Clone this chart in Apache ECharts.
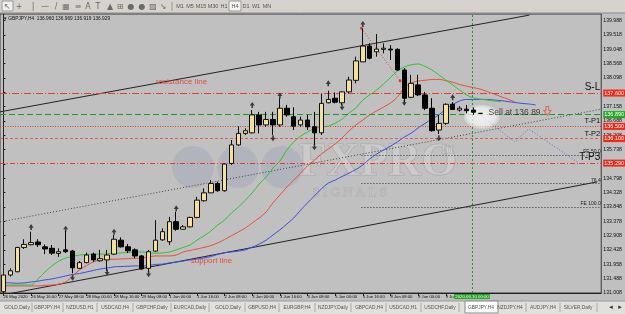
<!DOCTYPE html>
<html><head><meta charset="utf-8">
<script src="https://cdn.jsdelivr.net/npm/echarts/dist/echarts.min.js"></script>
<style>html,body{margin:0;padding:0;background:#c0c0c0;overflow:hidden}#c{width:625px;height:314px;}</style>
</head><body><div id="c"></div>
<script>
// ---- data ----
const opens  = [131.05,131.60,131.71,132.51,132.60,132.69,132.53,132.48,132.31,132.43,132.39,131.82,132.01,132.29,132.07,132.10,132.29,132.75,132.53,132.43,132.23,131.82,132.39,132.76,132.70,133.36,133.11,133.19,133.50,134.05,134.31,134.62,134.38,135.28,135.89,136.27,136.29,136.88,136.55,136.73,136.55,137.10,136.82,136.55,136.71,136.49,136.29,137.28,137.43,137.28,137.64,138.02,138.63,139.15,138.96,139.04,139.05,139.04,138.36,137.46,137.87,137.54,137.10,136.38,136.60,137.23,137.04,137.07,137.04,136.93];
const closes = [131.60,131.74,132.51,132.61,132.67,132.60,132.46,132.32,132.37,132.37,131.84,132.01,132.26,132.10,132.14,132.26,132.78,132.53,132.40,132.23,131.80,132.37,132.75,133.03,133.36,133.11,133.19,133.50,134.07,134.31,134.62,134.38,135.26,135.89,136.27,136.36,136.88,136.55,136.73,136.55,137.10,136.88,136.51,136.71,136.49,136.29,137.26,137.39,137.30,137.64,138.03,138.66,139.15,138.75,139.05,139.08,139.02,138.36,137.43,137.92,137.54,137.10,136.36,136.60,137.23,137.06,137.10,137.02,136.97,136.93];
const lows   = [131.00,131.55,131.69,132.46,132.58,132.53,132.29,132.26,132.20,132.33,131.66,131.80,131.99,132.04,132.04,131.74,132.26,132.51,132.32,132.15,131.78,131.70,132.37,132.73,132.59,133.06,133.09,133.17,133.47,134.02,134.30,134.35,134.35,135.23,135.86,136.22,136.27,136.27,136.49,136.22,136.49,136.82,136.38,136.49,136.38,135.89,136.22,137.26,137.26,137.21,137.59,137.92,138.62,138.71,138.80,138.91,138.69,138.34,137.31,137.43,137.50,137.04,136.33,136.25,136.55,137.04,136.99,136.93,136.88,136.92];
const highs  = [131.63,131.82,132.53,132.78,133.03,132.78,132.61,132.59,132.48,133.05,132.43,132.06,132.34,132.34,132.43,132.43,132.92,132.84,132.62,132.48,132.26,132.43,133.41,133.14,133.52,133.69,133.25,133.52,134.18,134.46,134.73,134.68,135.28,136.05,136.51,136.44,137.04,136.98,136.98,136.98,137.43,137.21,137.13,136.82,136.88,136.98,137.58,137.68,137.62,137.66,138.14,138.80,139.73,139.24,139.55,139.24,139.18,139.08,138.42,138.20,138.20,137.64,137.43,136.88,137.26,137.30,137.17,137.21,137.13,136.94];

const lipsGreen = [131.27,131.27,131.27,131.27,131.27,131.47,131.70,131.90,132.06,132.16,132.21,132.26,132.28,132.29,132.29,132.30,132.32,132.33,132.34,132.36,132.36,132.34,132.32,132.33,132.36,132.43,132.51,132.59,132.75,132.89,133.05,133.25,133.41,133.65,133.84,134.07,134.31,134.60,134.83,135.13,135.36,135.72,135.99,136.18,136.32,136.42,136.48,136.51,136.61,136.74,136.94,137.11,137.37,137.54,137.70,137.90,138.11,138.33,138.46,138.53,138.56,138.48,138.36,138.20,138.03,137.87,137.70,137.54,137.44,137.40,137.37,137.34,137.31];
const teethRed = [131.24,131.24,131.24,131.24,131.24,131.24,131.26,131.27,131.30,131.37,131.57,131.77,131.91,132.03,132.10,132.12,132.12,132.13,132.14,132.15,132.16,132.20,132.23,132.23,132.23,132.26,132.36,132.41,132.46,132.51,132.57,132.66,132.77,132.90,133.02,133.15,133.32,133.48,133.68,133.98,134.24,134.50,134.73,134.96,135.20,135.39,135.59,135.76,135.92,136.12,136.35,136.55,136.71,136.88,137.01,137.14,137.27,137.47,137.77,137.93,138.00,138.02,138.05,138.05,138.01,137.96,137.88,137.83,137.78,137.73,137.65,137.57,137.48,137.40,137.31];
const jawBlue = [131.35,131.34,131.33,131.34,131.37,131.40,131.44,131.47,131.52,131.57,131.62,131.65,131.70,131.75,131.80,131.83,131.87,131.88,131.89,131.90,131.90,131.91,131.95,131.96,132.00,132.03,132.06,132.10,132.13,132.16,132.21,132.28,132.34,132.36,132.39,132.43,132.52,132.62,132.75,132.92,133.09,133.28,133.48,133.74,133.98,134.21,134.44,134.63,134.73,134.85,134.96,135.08,135.23,135.43,135.59,135.72,135.85,135.99,136.15,136.28,136.45,136.60,136.74,136.88,137.07,137.22,137.34,137.39,137.39,137.39,137.39,137.37,137.35,137.32,137.29,137.26,137.24,137.21];

const timeLabels = ['26 May 2020','26 May 16:00','27 May 08:00','28 May 00:00','28 May 16:00','29 May 08:00','1 Jun 00:00','1 Jun 16:00','2 Jun 08:00','3 Jun 00:00','3 Jun 16:00','4 Jun 08:00','5 Jun 00:00','5 Jun 16:00','8 Jun 08:00','9 Jun 00:00','9 Jun 16:00'];
const priceTicks = ['131.008','131.488','131.958','132.428','132.908','133.378','133.848','134.328','134.798','135.268','135.738','136.208','136.688','137.158','137.628','138.098','138.568','139.048','139.518','139.988'];

const fractalUpBars = [4,9,16,25,36,40,47,52,65];
const fractalUpPrices = [133.18,133.13,133.03,133.80,137.21,137.52,137.92,139.88,137.46];
const fractalDownBars = [10,15,21,39,45,49,58,63];
const fractalDownPrices = [131.51,131.68,131.63,136.11,135.81,137.13,137.28,136.11];

const levelNames = ['S-L','T-P1','T-P2','T-P3'];
const levelPrices = [137.60,136.50,136.10,135.29];
const levelBoxes = ['137.600','136.500','136.100','135.290'];
const entryPrice = 136.89;
const entryBox = '136.890';
const feNames = ['FE 50.0','76.4','FE 100.0'];
const fePrices = [135.56,134.63,133.84];
const feStartBar = 51.8;

const upperChannel = [[-0.5,136.98],[76.1,140.17]];
const lowerChannel = [[0.65,130.975],[85.9,134.67]];
const midDotted = [[-0.5,133.35],[86.5,137.07]];
const projection = [[68.06,137.04],[73.96,135.99],[75.98,136.42],[83.47,135.26]];
const zigzag = [[51.8,139.74],[57.4,138.01]];
const crosshairBar = 67.8;
const crosshairLabel = '2020.06.10 00:00';
const totalBars = 87;

// ---- chart ----
const yMin = 131.008, yStep = 0.47263, yMax = 140.207;
const cats = Array.from({length: totalBars}, (_, i) => String(i));
const candles = cats.map((_, i) => i < opens.length ? [opens[i], closes[i], lows[i], highs[i]] : '-');
const FONT = 'Liberation Sans';
const NARROW = '"Liberation Sans Narrow", "Liberation Sans"';
const upArrow = 'path://M5 0 L10 6 L6.6 6 L6.6 10 L3.4 10 L3.4 6 L0 6 Z';
const dnArrow = 'path://M3.4 0 L6.6 0 L6.6 4 L10 4 L5 10 L0 4 L3.4 4 Z';
const hollowDown = 'path://M3 0 L7 0 L7 5 L10 5 L5 11 L0 5 L3 5 Z';

const levelColors = ['#e2402e','#e2402e','#e85a5a','#e2402e'];
const levelTypes = [[7,2,1,2],[1,1.5],[3,2],[5,2,1,2]];
const nameSizes = [10,7.5,7.5,10];

const mlData = [];
levelPrices.forEach((p, k) => {
  mlData.push({yAxis: p, lineStyle: {color: levelColors[k], type: levelTypes[k], width: 1},
    label: {show: true, position: 'end', distance: 2, formatter: levelBoxes[k], backgroundColor: '#f02a1a', color: '#fff', fontSize: 5.5, fontFamily: NARROW, padding: [1,1,0,1]}});
  mlData.push({yAxis: p, lineStyle: {color: 'rgba(0,0,0,0)', width: 0},
    label: {show: true, position: 'insideEndTop', distance: [1,1], formatter: levelNames[k], color: '#111', fontSize: nameSizes[k], fontFamily: FONT}});
});
mlData.push({yAxis: entryPrice, lineStyle: {color: '#1f9a2a', type: [6,3], width: 1},
  label: {show: true, position: 'end', distance: 2, formatter: entryBox, backgroundColor: '#22aa22', color: '#fff', fontSize: 5.5, fontFamily: NARROW, padding: [1,1,0,1]}});

const feData = fePrices.map((p, k) => [
  {coord: [feStartBar, p], lineStyle: {color: '#333', type: [1,2], width: 1},
   label: {show: true, position: 'insideEndTop', distance: [0.5,0.5], formatter: feNames[k], color: '#222', fontSize: 5, fontFamily: NARROW}},
  {coord: [totalBars - 0.5, p]}
]);

const chart = echarts.init(document.getElementById('c'));
chart.setOption({
  animation: false,
  backgroundColor: '#c0c0c0',
  grid: {left: 0, top: 14, width: 604, height: 279, show: true, borderColor: '#3a3a3a', borderWidth: 1, backgroundColor: 'transparent'},
  xAxis: [
    {type: 'category', data: cats, boundaryGap: true,
     axisLine: {lineStyle: {color: '#222'}},
     axisTick: {show: true, length: 3, alignWithLabel: true, interval: i => i % 4 === 0 && i / 4 < timeLabels.length, lineStyle: {color: '#222'}},
     axisLabel: {interval: i => i % 4 === 0 && i / 4 < timeLabels.length, showMinLabel: true, hideOverlap: false,
       formatter: (v, i) => timeLabels[i / 4] || '', align: 'left', fontSize: 4.2, color: '#111', fontFamily: FONT, margin: 2},
     splitLine: {show: false}},
    {type: 'value', min: -0.5, max: totalBars - 0.5, show: false}
  ],
  yAxis: {type: 'value', position: 'right', min: yMin, max: yMax, interval: yStep,
    axisLine: {show: true, lineStyle: {color: '#222'}},
    axisTick: {show: true, length: 2, lineStyle: {color: '#222'}},
    splitLine: {show: false},
    axisLabel: {showMaxLabel: false, fontSize: 5.2, color: '#111', fontFamily: FONT, margin: 2,
      formatter: v => { const k = Math.round((v - yMin) / yStep); return Math.abs(v - (yMin + k * yStep)) < 1e-6 && priceTicks[k] ? priceTicks[k] : ''; }}},
  series: [
    {type: 'line', xAxisIndex: 1, data: upperChannel, symbol: 'none', lineStyle: {color: '#222', width: 1}, z: 3, silent: true},
    {type: 'line', xAxisIndex: 1, data: lowerChannel, symbol: 'none', lineStyle: {color: '#222', width: 1}, z: 3, silent: true},
    {type: 'line', xAxisIndex: 1, data: midDotted, symbol: 'none', lineStyle: {color: '#444', width: 1, type: [1,2]}, z: 3, silent: true},
    {type: 'line', xAxisIndex: 1, data: projection, symbol: 'none', lineStyle: {color: '#5a6ee0', width: 1, type: [1,2]}, z: 3, silent: true},
    {type: 'line', xAxisIndex: 1, data: zigzag, symbol: 'circle', symbolSize: 3, itemStyle: {color: '#e04030'}, lineStyle: {color: '#e04030', width: 1, type: [1,2]}, z: 3, silent: true},
    {type: 'line', xAxisIndex: 0, data: [], markLine: {silent: true, symbol: ['none','none'], animation: false, data: mlData}, z: 3},
    {type: 'line', xAxisIndex: 1, data: [], markLine: {silent: true, symbol: ['none','none'], animation: false, data: feData.concat([
      {xAxis: crosshairBar, lineStyle: {color: '#1e9a1e', type: [2,2], width: 1},
       label: {show: true, position: 'start', distance: 1, formatter: crosshairLabel, backgroundColor: '#22a022', color: '#fff', fontSize: 4.3, fontFamily: FONT, padding: [1,1,0,1]}}])}, z: 3},
    {type: 'line', xAxisIndex: 0, data: jawBlue, symbol: 'none', smooth: 0.3, lineStyle: {color: '#3c4ee0', width: 1}, z: 4, silent: true},
    {type: 'line', xAxisIndex: 0, data: teethRed, symbol: 'none', smooth: 0.3, lineStyle: {color: '#e8503c', width: 1}, z: 4, silent: true},
    {type: 'line', xAxisIndex: 0, data: lipsGreen, symbol: 'none', smooth: 0.3, lineStyle: {color: '#2fc42f', width: 1}, z: 4, silent: true},
    {type: 'scatter', xAxisIndex: 1, data: [[69.2, 136.82]], symbol: 'circle', symbolSize: [36, 24], silent: true, z: 5,
     itemStyle: {color: {type: 'radial', x: 0.5, y: 0.5, r: 0.5, colorStops: [{offset: 0, color: 'rgba(255,255,255,0.95)'}, {offset: 0.75, color: 'rgba(250,250,250,0.85)'}, {offset: 1, color: 'rgba(235,235,235,0.4)'}]}}},
    {type: 'candlestick', xAxisIndex: 0, data: candles, barWidth: 5, z: 6, silent: true,
     itemStyle: {color: '#f4e196', color0: '#000', borderColor: '#111', borderColor0: '#000', borderWidth: 1}},
    {type: 'scatter', xAxisIndex: 0, data: fractalUpBars.map((b, k) => [b, fractalUpPrices[k]]), symbol: upArrow, symbolSize: [5, 6], itemStyle: {color: '#1a1a1a'}, z: 7, silent: true},
    {type: 'scatter', xAxisIndex: 0, data: fractalDownBars.map((b, k) => [b, fractalDownPrices[k]]), symbol: dnArrow, symbolSize: [5, 6], itemStyle: {color: '#1a1a1a'}, z: 7, silent: true},
    {type: 'scatter', xAxisIndex: 1, data: [[78.7, 137.01]], symbol: hollowDown, symbolSize: [7, 9], itemStyle: {color: 'rgba(0,0,0,0)', borderColor: '#e84a3a', borderWidth: 1}, z: 7, silent: true},
    {type: 'scatter', xAxisIndex: 1, symbolSize: 0, silent: true, z: 8,
     data: [
       {value: [70.2, 136.97], label: {show: true, position: 'right', distance: 0, formatter: 'Sell at 136.89', color: '#1a1a1a', fontSize: 8.5, fontFamily: FONT}},
       {value: [22.07, 137.97], label: {show: true, position: 'right', distance: 0, formatter: 'resistance line', color: '#e8301e', fontSize: 8, fontFamily: FONT}},
       {value: [27.1, 132.06], label: {show: true, position: 'right', distance: 0, formatter: 'support line', color: '#e8301e', fontSize: 8, fontFamily: FONT}}
     ]}
  ],
  graphic: [
    // watermark
    {type: 'circle', shape: {cx: 193, cy: 167, r: 21}, style: {fill: 'rgba(125,135,175,0.22)'}, z: 1, silent: true},
    {type: 'circle', shape: {cx: 238, cy: 167, r: 21}, style: {fill: 'rgba(125,135,175,0.22)'}, z: 1, silent: true},
    {type: 'circle', shape: {cx: 282, cy: 167, r: 21}, style: {fill: 'rgba(125,135,175,0.22)'}, z: 1, silent: true},
    {type: 'text', left: 298, top: 140, z: 1, silent: true, style: {text: 'FXPRO', font: 'bold 46px "Liberation Serif"', fill: 'rgba(212,212,212,0.55)', stroke: 'rgba(140,140,140,0.45)', lineWidth: 1}},
    {type: 'text', left: 441, top: 143, z: 1, silent: true, style: {text: 'fit', font: 'bold 13px "Liberation Serif"', fill: 'rgba(212,212,212,0.55)', stroke: 'rgba(140,140,140,0.4)', lineWidth: 1}},
    {type: 'text', left: 312, top: 186, z: 1, silent: true, style: {text: 'S I G N A L S', font: '13px "Liberation Serif"', fill: 'rgba(212,212,212,0.5)', stroke: 'rgba(140,140,140,0.35)', lineWidth: 1}},
    // title
    {type: 'text', left: 4, top: 16, z: 50, style: {text: '▾ GBPJPY,H4  136.960 136.969 136.919 136.929', font: '4.8px "Liberation Sans"', fill: '#111'}},
    // toolbar
    {type: 'rect', shape: {x: 0, y: 0, width: 625, height: 13}, style: {fill: '#d6d3ce'}, z: 100},
    {type: 'line', shape: {x1: 0, y1: 13, x2: 625, y2: 13}, style: {stroke: '#8a8a8a', lineWidth: 1}, z: 100},
    {type: 'rect', shape: {x: 2, y: 1, width: 11, height: 10}, style: {fill: '#eeeeee', stroke: '#9a9a9a'}, z: 101},
    {type: 'rect', shape: {x: 229, y: 1, width: 12, height: 10}, style: {fill: '#f4f4f4', stroke: '#9a9a9a'}, z: 101},
    {type: 'group', z: 102, children: [
      ['↖',7],['+',19],['|',33],['—',45],['/',56],['▦',66],['≡',78],['A',88],['T',98],['▲',110],['⊞',120],['●',131],['●',142],['▨',153],['↘',163]
    ].map(([t, x]) => ({type: 'text', z: 102, x: x, y: 6.5, style: {text: t, font: '8px "DejaVu Sans"', fill: '#6a6a6a', align: 'center', verticalAlign: 'middle'}}))
      .concat([['M1',180],['M5',190],['M15',201],['M30',213],['H1',224],['H4',235],['D1',246],['W1',256],['MN',267]]
      .map(([t, x]) => ({type: 'text', z: 102, x: x, y: 6.5, style: {text: t, font: '5.5px "Liberation Sans"', fill: '#555', align: 'center', verticalAlign: 'middle'}})))
      .concat([{type: 'line', z: 102, shape: {x1: 172, y1: 2, x2: 172, y2: 11}, style: {stroke: '#999'}}])},
    // tab bar
    {type: 'rect', shape: {x: 0, y: 301, width: 625, height: 13}, style: {fill: '#e2e0dc'}, z: 100},
    {type: 'line', shape: {x1: 0, y1: 301, x2: 625, y2: 301}, style: {stroke: '#9a9a9a'}, z: 100},
    {type: 'rect', shape: {x: 465, y: 301, width: 33, height: 12}, style: {fill: '#ffffff', stroke: '#8a8a8a'}, z: 101},
    {type: 'group', z: 102, children: [
      ['GOLD,Daily',17],['GBPJPY,H4',47],['NZDUSD,H1',80],['USDCAD,H4',115],['GBPCHF,Daily',152],['EURCAD,Daily',190],['GOLD,Daily',228],['GBPUSD,H4',262],['EURGBP,H4',297],['NZDJPY,Daily',333],['GBPCAD,H4',369],['USDCAD,H1',403],['USDCHF,Daily',440],['GBPJPY,H4',481],['NZDJPY,H4',510],['AUDJPY,H4',543],['SILVER,Daily',578]
    ].map(([t, x]) => ({type: 'text', z: 102, x: x, y: 307.5, style: {text: t, font: '4.8px "Liberation Sans"', fill: '#555', align: 'center', verticalAlign: 'middle'}}))
      .concat([32,63,97,133,171,209,245,279,315,351,386,421,459,526,560,597].map(x => ({type: 'line', z: 102, shape: {x1: x, y1: 303, x2: x, y2: 312}, style: {stroke: '#aaa'}})))
      .concat([['◂',611],['▸',620]].map(([t, x]) => ({type: 'text', z: 102, x: x, y: 307.5, style: {text: t, font: '7px "DejaVu Sans"', fill: '#333', align: 'center', verticalAlign: 'middle'}})))}
  ]
});
</script></body></html>
